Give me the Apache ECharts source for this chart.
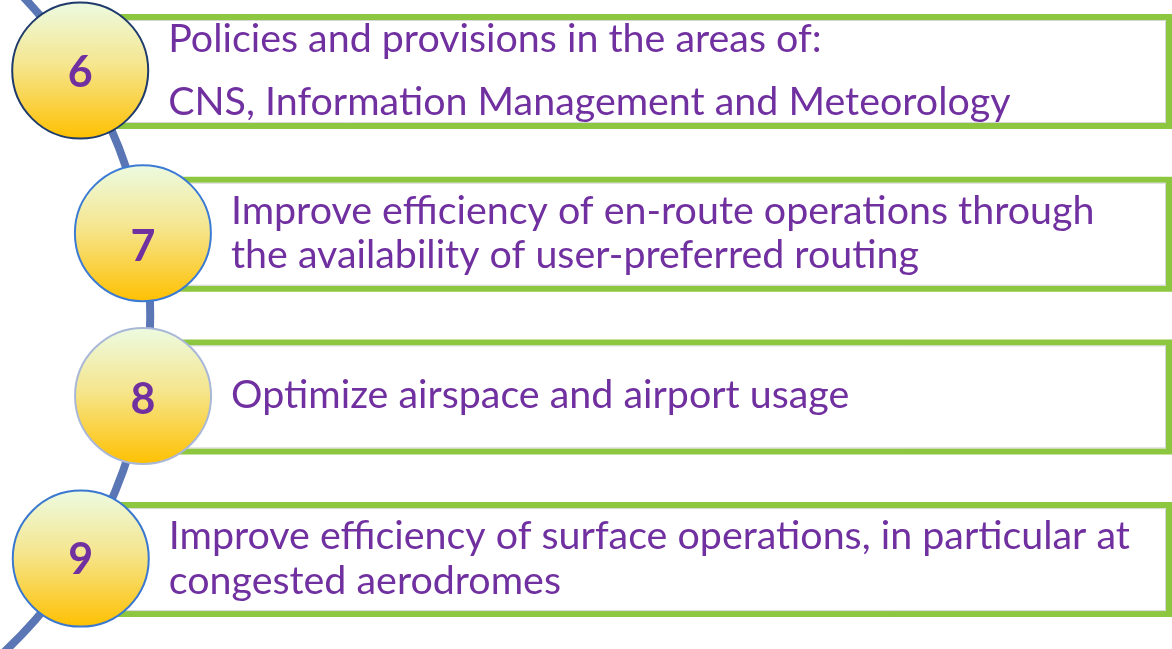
<!DOCTYPE html>
<html>
<head>
<meta charset="utf-8">
<script src="https://cdn.jsdelivr.net/npm/echarts@6/dist/echarts.min.js"></script>
<style>
html,body{margin:0;padding:0;background:#ffffff;}
#main{width:1172px;height:649px;}
</style>
</head>
<body>
<div id="main"></div>
<script>
// ---- content ----
const stepNumbers = ['6', '7', '8', '9'];
const stepLines = [
  ['Policies and provisions in the areas of:', 'CNS, Information Management and Meteorology'],
  ['Improve efficiency of en-route operations through', 'the availability of user-preferred routing'],
  ['Optimize airspace and airport usage'],
  ['Improve efficiency of surface operations, in particular at', 'congested aerodromes']
];
const circleBorders = ['#1f3b6b', '#3b7bd4', '#aab8d8', '#3a78d0'];

// ---- layout ----
const W = 1172, H = 649;
const rowTop0 = 14, rowPitch = 162.7, boxH = 115;
const arcCx = -311.8, arcCy = 315, arcR = 462;
const circleR = 68;
const lineGaps = [63, 44, 0, 45];
const numberShift = [3, 14, 4, 2];
const FONT = 'Lato';
const textSize = 39.4;
const numSize = 43;
const purple = '#7030a0';
const green = '#8dc63f';

const chart = echarts.init(document.getElementById('main'), null, {renderer: 'canvas'});

function circleGradient() {
  return new echarts.graphic.LinearGradient(0, 0, 0, 1, [
    {offset: 0, color: '#ecfbe2'},
    {offset: 0.45, color: '#f5e690'},
    {offset: 1, color: '#ffc000'}
  ]);
}

chart.setOption({
  animation: false,
  grid: {left: 0, right: 0, top: 0, bottom: 0},
  xAxis: {type: 'value', min: 0, max: W, show: false},
  yAxis: {type: 'value', min: 0, max: H, inverse: true, show: false},
  series: [
    {
      type: 'custom',
      z: 1,
      data: [[0]],
      renderItem: function (params, api) {
        const c = api.coord([arcCx, arcCy]);
        const r = api.size([arcR, 0])[0];
        return {
          type: 'arc',
          shape: {cx: c[0], cy: c[1], r: r, startAngle: -0.85, endAngle: 0.85, clockwise: true},
          style: {stroke: '#5a76b4', lineWidth: 8, fill: null}
        };
      }
    },
    {
      type: 'custom',
      z: 2,
      data: stepNumbers.map((n, i) => [i]),
      renderItem: function (params, api) {
        const i = api.value(0);
        const top = rowTop0 + i * rowPitch;
        const mid = top + boxH / 2;
        const cyD = mid - 1;
        const cxD = arcCx + Math.sqrt(arcR * arcR - (cyD - arcCy) * (cyD - arcCy));
        const boxTL = api.coord([cxD, top + 3]);
        const boxSz = api.size([W - 3 - cxD, boxH - 6]);
        const inTL = api.coord([cxD, top + 6.5]);
        const inSz = api.size([W - 6.5 - cxD, boxH - 13]);
        const cc = api.coord([cxD, cyD]);
        const children = [];
        children.push({
          type: 'rect',
          shape: {x: boxTL[0], y: boxTL[1], width: boxSz[0], height: boxSz[1]},
          style: {fill: '#ffffff', stroke: green, lineWidth: 6}
        });
        children.push({
          type: 'rect',
          shape: {x: inTL[0], y: inTL[1], width: inSz[0], height: inSz[1]},
          style: {fill: null, stroke: '#d6d6d6', lineWidth: 1}
        });
        const lines = stepLines[i];
        const tx = cxD + circleR + 20;
        const gap = lineGaps[i];
        const base0 = mid + 13 - (lines.length - 1) * gap / 2;
        lines.forEach(function (ln, k) {
          const baseline = base0 + k * gap;
          const p = api.coord([tx, baseline - textSize * 0.36]);
          children.push({
            type: 'text',
            style: {
              text: ln, x: p[0], y: p[1],
              fill: purple, font: 'normal ' + textSize + 'px ' + FONT,
              align: 'left', verticalAlign: 'middle'
            }
          });
        });
        children.push({
          type: 'circle',
          shape: {cx: cc[0], cy: cc[1], r: circleR},
          style: {fill: circleGradient(), stroke: circleBorders[i], lineWidth: 2}
        });
        const np = api.coord([cxD, cyD + numberShift[i]]);
        children.push({
          type: 'text',
          style: {
            text: stepNumbers[i], x: np[0], y: np[1],
            fill: purple, font: 'bold ' + numSize + 'px ' + FONT,
            align: 'center', verticalAlign: 'middle'
          }
        });
        return {type: 'group', children: children};
      }
    }
  ]
});
</script>
</body>
</html>
